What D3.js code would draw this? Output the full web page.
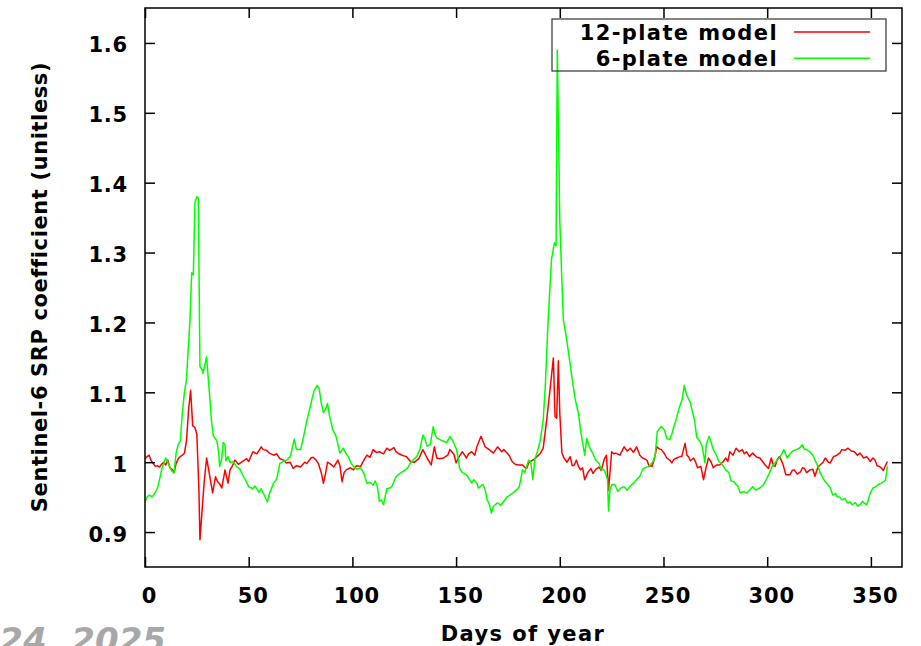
<!DOCTYPE html>
<html>
<head>
<meta charset="utf-8">
<script src="https://cdn.jsdelivr.net/npm/d3@7"></script>
<style>
  body { margin: 0; background: #fff; }
  svg text { font-family: "DejaVu Sans", sans-serif; font-weight: bold; }
</style>
</head>
<body>
<svg id="plot" width="921" height="646"></svg>
<script>
// axis ticks
var xTicks = [0, 50, 100, 150, 200, 250, 300, 350];
var yTicks = [0.9, 1.0, 1.1, 1.2, 1.3, 1.4, 1.5, 1.6];
var yTickLabels = ["0.9", "1", "1.1", "1.2", "1.3", "1.4", "1.5", "1.6"];

var seriesNames = ["12-plate model", "6-plate model"];

// 12-plate model (red)
var days12 = [0,1,2,3,4,5,6,7,8,9,10,11,12,13,14,15,16,17,18,19,20,21,22,23,24,25,26,26.5,27.5,28.5,29.7,31,32.6,34,35,36,37,38.6,40,41,42,43.4,45,46,48,49,50,52,54,56,57,58.6,60,62,63.5,65,67,68,70,71.5,73,75,77,78,80,81,82.5,83.6,85,86,87,88,90,91,93,94,95,96,97,99,100.5,102,104,105.5,107,108.5,110,111.5,113,115,116.6,118,120,121,122.5,124,126,128,130,132,134,136,138,139.5,140.7,142,144,146,147,149,150,151.5,153,155,156,157.5,159,160,162,164,166,168,170,172,173,174,175.5,177,178.5,180,182,183,184,185,186,187.5,189,190.5,192,193.7,195.3,196.9,197.7,198.5,199.3,200,201,202,203.5,205,206,207,208,209,210,211,212,213.5,215,216,217.5,219,220,221.5,222.5,223.5,225,226,227,229,231,232.5,234,235.5,237,238.6,240,242,243,244.4,245.5,246.8,248,249,250.5,251.6,253,254,255,256.4,258,258.8,260.4,261.3,262,263,264.5,265.5,266.4,268,269.3,270.5,271.7,273,274,275.5,277,278.5,280,281,282,283.5,285,286.5,288,289,290,291.5,293,295,296.5,298,299,300.6,302,303,303.8,305,306,307.5,309,311,312,313,314.5,316,317,318,319,320.7,322,323,324.5,325.5,327,328,329.5,330.4,332,333.6,335,336,337.5,339,340.5,342,343.5,344.8,346.5,348,349.7,351,352,353,354,355,356,357,358];
var srp12 = [1.005,1.008,1.010,1.002,0.998,0.994,0.995,0.993,0.997,1.000,0.996,1.003,0.992,0.990,0.985,0.998,1.005,1.008,1.010,1.013,1.030,1.075,1.103,1.052,1.050,1.040,0.960,0.889,0.930,0.970,1.006,0.984,0.956,0.979,0.972,0.969,0.963,0.989,0.970,0.989,0.994,1.003,0.997,0.999,1.003,1.005,1.001,1.015,1.012,1.022,1.018,1.017,1.013,1.010,1.012,1.005,1.003,0.999,1.000,0.991,0.995,0.993,1.000,0.998,1.006,1.007,1.003,0.998,0.985,0.970,0.983,1.000,0.996,0.993,1.003,0.995,0.972,0.985,0.989,0.992,0.989,0.995,0.994,1.003,1.010,1.007,1.018,1.014,1.015,1.012,1.020,1.017,1.021,1.015,1.012,1.010,1.008,1.001,1.000,1.005,1.018,1.006,0.996,1.022,1.006,1.005,1.006,1.010,1.018,1.011,0.999,1.008,1.015,1.006,1.012,1.015,1.010,1.022,1.037,1.022,1.018,1.013,1.022,1.015,1.018,1.015,1.010,1.001,0.997,0.996,0.996,0.993,0.991,0.999,1.001,1.004,1.008,1.012,1.020,1.061,1.104,1.149,1.065,1.063,1.145,1.070,1.014,1.006,1.000,1.008,0.995,0.996,1.003,0.994,0.989,0.992,0.975,0.985,0.991,0.984,0.990,0.993,0.988,1.005,1.010,0.960,1.015,1.012,1.013,1.010,1.022,1.016,1.020,1.014,1.022,1.010,1.006,1.003,0.995,0.994,1.003,1.022,1.019,1.018,1.012,1.006,1.003,0.999,1.004,1.006,1.008,1.008,1.027,1.010,1.008,1.002,1.006,1.000,0.992,0.994,0.975,0.992,1.006,1.000,0.992,0.996,0.996,1.000,1.006,1.001,1.015,1.010,1.020,1.015,1.018,1.012,1.015,1.008,1.013,1.007,1.006,1.000,0.996,0.991,1.006,0.995,0.994,1.005,1.008,0.998,0.982,0.982,0.988,0.989,0.983,0.986,0.992,0.991,0.985,0.989,0.990,0.980,0.993,0.996,1.000,1.006,1.000,0.999,1.008,1.010,1.013,1.018,1.017,1.020,1.016,1.015,1.010,1.013,1.006,1.008,1.001,1.006,1.003,0.995,0.994,0.992,0.988,0.995,1.001];

// 6-plate model (green)
var days6 = [0,1,2,3,4,5,6,7,8,9,10,11,12,13,14,15,16,17,18,19,20,21,21.7,22.5,23.3,24.1,25,25.7,26.5,27.5,28,29.7,30.5,31.3,32,33,34.6,35.5,36,37,37.7,38.5,39,40,41,42.5,44,45.8,47,49,50,52,53,55,56,57.5,59,60,62,63.5,65,66.5,68.4,70,71,72,73,75,76.5,78,80.5,81.5,83,84,85,86,87,88,89,90.5,92,94,95.6,97,98,99.5,100.5,102,104,105.5,107,108.5,110,111,112,113,114,115,116.6,118,119,120,121,122.5,124,125,126.5,128,129.5,131,132.5,134,135,136,137.5,139,140,141,142.5,144,145.5,147,148.5,150,151,151.7,153,154,155.5,157.5,158.5,160,160.7,162,163,164,165,166,167,168,170,171.5,173,174.5,176,177.5,179,180.5,182,183,184,185,186,187,188,189,190.5,192,193,194.4,196,197.4,198.2,198.8,200,201,201.7,203.3,205,206.4,207.5,209,210,211,212,213,214.5,216,217,218,219,220,221,222,223,223.5,224.2,225,226.5,228,229.5,231,232.5,234,235.5,237,238.6,240,241,243,245,246,247,248,249,250.5,251.6,253,254,255,256,257.5,259,260,261,262,263,263.8,265,266,267.5,268.7,270,270.6,272,273,274,275.5,276.7,278,280,281.5,282.6,284,285,286,287,288.5,290,291.5,293,294.5,296.5,298,299,300,301,302.5,303.8,305,306,307,308,309.6,311,312,313,314,315.5,317,318,319,320.5,322,323.5,324.5,325.5,326.8,328,329,330.4,331.6,333,333.6,335,336,337.5,338.6,340,341,342.5,343.7,345,346,347,348,349.7,351,352.5,353.6,355,356,357,358];
var srp6 = [0.944,0.950,0.953,0.951,0.952,0.957,0.963,0.975,0.989,0.998,1.006,1.000,0.993,0.987,0.985,1.013,1.025,1.030,1.070,1.100,1.118,1.170,1.204,1.271,1.268,1.372,1.380,1.378,1.137,1.133,1.127,1.151,1.120,1.090,1.060,1.037,1.031,1.015,0.994,1.005,1.028,1.026,1.002,1.008,1.000,1.001,0.994,0.990,0.982,0.971,0.965,0.962,0.966,0.957,0.962,0.953,0.943,0.955,0.970,0.976,0.998,1.001,1.003,1.008,1.020,1.033,1.018,1.018,1.037,1.059,1.090,1.102,1.110,1.105,1.085,1.071,1.075,1.084,1.066,1.047,1.038,1.013,1.020,1.012,1.008,0.998,0.994,0.990,0.992,0.984,0.970,0.971,0.967,0.973,0.966,0.944,0.946,0.939,0.962,0.963,0.965,0.972,0.979,0.983,0.986,0.988,0.991,0.999,1.004,1.008,1.018,1.039,1.033,1.023,1.025,1.051,1.038,1.034,1.032,1.030,1.028,1.037,1.030,1.020,1.006,0.991,0.985,0.984,0.980,0.970,0.975,0.970,0.963,0.966,0.968,0.960,0.946,0.940,0.927,0.937,0.942,0.938,0.944,0.950,0.953,0.956,0.960,0.965,0.989,0.985,0.994,1.003,1.000,0.975,1.005,1.013,1.030,1.060,1.109,1.204,1.290,1.314,1.310,1.590,1.347,1.260,1.204,1.176,1.140,1.110,1.089,1.070,1.046,1.028,1.010,1.034,1.020,1.012,1.005,1.001,0.998,0.989,0.990,0.985,0.975,0.930,0.960,0.968,0.968,0.958,0.963,0.965,0.960,0.966,0.970,0.975,0.980,0.990,0.992,0.994,1.001,1.010,1.044,1.048,1.051,1.046,1.034,1.032,1.040,1.051,1.060,1.077,1.090,1.110,1.098,1.091,1.085,1.074,1.060,1.036,1.030,1.022,0.999,1.025,1.037,1.028,1.018,1.010,1.001,0.998,0.989,0.985,0.973,0.972,0.968,0.965,0.956,0.958,0.956,0.960,0.965,0.960,0.963,0.967,0.972,0.978,0.984,0.995,0.999,1.004,1.006,1.012,1.018,1.006,1.012,1.015,1.017,1.018,1.020,1.025,1.018,1.018,1.015,1.010,1.000,0.994,0.985,0.978,0.972,0.969,0.963,0.953,0.955,0.951,0.950,0.946,0.948,0.942,0.943,0.939,0.942,0.937,0.940,0.944,0.941,0.939,0.956,0.963,0.965,0.968,0.970,0.972,0.974,0.994];

var seriesColors = ["#ff0000", "#00ff00"];

var plotLeft = 145, plotRight = 902, plotTop = 8, plotBottom = 567;

var svg = d3.select("#plot");

var x = d3.scaleLinear().domain([0, 365]).range([plotLeft, plotRight]);
var y = d3.scaleLinear().domain([0.85, 1.65]).range([plotBottom, plotTop]);

// clip for the data lines
svg.append("defs").append("clipPath").attr("id", "clip")
  .append("rect")
  .attr("x", plotLeft).attr("y", plotTop)
  .attr("width", plotRight - plotLeft).attr("height", plotBottom - plotTop);

var line = d3.line()
  .x(function (d) { return x(d[0]); })
  .y(function (d) { return y(d[1]); });

var series = [
  days12.map(function (d, i) { return [d, srp12[i]]; }),
  days6.map(function (d, i) { return [d, srp6[i]]; })
];

var lines = svg.append("g").attr("clip-path", "url(#clip)");
series.forEach(function (s, i) {
  lines.append("path")
    .datum(s)
    .attr("fill", "none")
    .attr("stroke", seriesColors[i])
    .attr("stroke-width", 1.5)
    .attr("stroke-linejoin", "round")
    .attr("d", line);
});

// axes, gnuplot style: ticks pointing inward on all four sides
var fontSize = 21;

var gLeft = svg.append("g")
  .attr("transform", "translate(" + plotLeft + ",0)")
  .call(d3.axisLeft(y).tickValues(yTicks)
    .tickFormat(function (d, i) { return yTickLabels[i]; })
    .tickSizeInner(-10).tickSizeOuter(0).tickPadding(17));

var gBottom = svg.append("g")
  .attr("transform", "translate(0," + plotBottom + ")")
  .call(d3.axisBottom(x).tickValues(xTicks)
    .tickSizeInner(-10).tickSizeOuter(0).tickPadding(21));

var gRight = svg.append("g")
  .attr("transform", "translate(" + plotRight + ",0)")
  .call(d3.axisRight(y).tickValues(yTicks).tickFormat("")
    .tickSizeInner(-10).tickSizeOuter(0));

var gTop = svg.append("g")
  .attr("transform", "translate(0," + plotTop + ")")
  .call(d3.axisTop(x).tickValues(xTicks).tickFormat("")
    .tickSizeInner(-10).tickSizeOuter(0));

[gLeft, gBottom, gRight, gTop].forEach(function (g) {
  g.select(".domain").remove();
  g.selectAll(".tick line").attr("stroke", "#000").attr("stroke-width", 1.5);
  g.selectAll(".tick text")
    .attr("fill", "#000")
    .style("font-size", fontSize + "px")
    .style("letter-spacing", "0.8px");
});

gLeft.selectAll(".tick text").attr("dy", null).attr("y", 9);
gBottom.selectAll(".tick text").attr("dx", 4);

// border
svg.append("rect")
  .attr("x", plotLeft).attr("y", plotTop)
  .attr("width", plotRight - plotLeft).attr("height", plotBottom - plotTop)
  .attr("fill", "none")
  .attr("stroke", "#000")
  .attr("stroke-width", 1.5);

// axis titles
svg.append("text")
  .attr("transform", "translate(47," + ((plotTop + plotBottom) / 2 - 0.5) + ") rotate(-90)")
  .attr("text-anchor", "middle")
  .style("font-size", fontSize + "px")
  .style("letter-spacing", "0.6px")
  .text("Sentinel-6 SRP coefficient (unitless)");

svg.append("text")
  .attr("x", 523).attr("y", 641)
  .attr("text-anchor", "middle")
  .style("font-size", fontSize + "px")
  .style("letter-spacing", "1.4px")
  .text("Days of year");

// legend
var legend = svg.append("g");
legend.append("rect")
  .attr("x", 552).attr("y", 19)
  .attr("width", 334).attr("height", 52)
  .attr("fill", "none")
  .attr("stroke", "#333")
  .attr("stroke-width", 1.2);

seriesNames.forEach(function (name, i) {
  var cy = 32 + i * 26.3;
  legend.append("text")
    .attr("x", 778).attr("y", cy + 8)
    .attr("text-anchor", "end")
    .style("font-size", fontSize + "px")
    .style("letter-spacing", "1.4px")
    .text(name);
  legend.append("line")
    .attr("x1", 794).attr("x2", 870)
    .attr("y1", cy).attr("y2", cy)
    .attr("stroke", seriesColors[i])
    .attr("stroke-width", 1.5);
});

// watermark cut at bottom-left
svg.append("text")
  .attr("x", 166).attr("y", 652)
  .attr("text-anchor", "end")
  .style("font-size", "34px")
  .style("font-style", "italic")
  .attr("fill", "#a8a8a8")
  .text("24, 2025");
</script>
</body>
</html>
